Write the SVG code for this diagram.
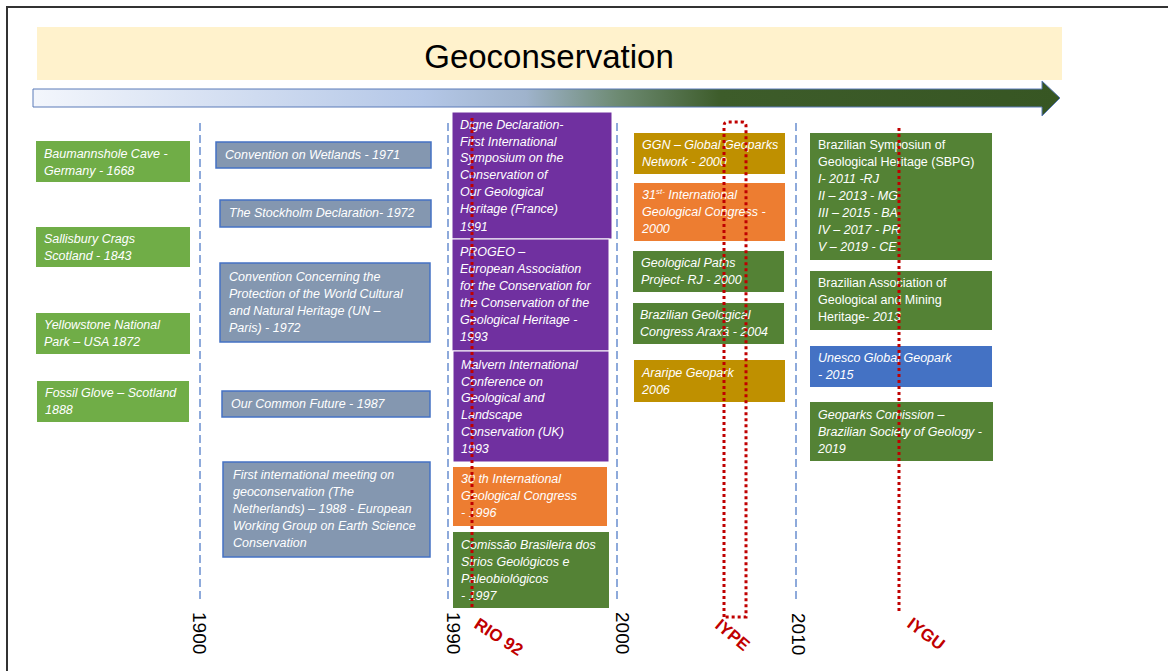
<svg xmlns="http://www.w3.org/2000/svg" width="1168" height="671" viewBox="0 0 1168 671">
<defs>
<linearGradient id="arrowGrad" x1="33" y1="0" x2="1060" y2="0" gradientUnits="userSpaceOnUse">
<stop offset="0" stop-color="#f3f6fc"/>
<stop offset="0.38" stop-color="#b4c7e7"/>
<stop offset="0.48" stop-color="#9fb3cc"/>
<stop offset="0.57" stop-color="#6d8a72"/>
<stop offset="0.67" stop-color="#3d5c2a"/>
<stop offset="1" stop-color="#375623"/>
</linearGradient>
<style>
.t{font-family:"Liberation Sans",Arial,sans-serif;font-size:12.5px;fill:#ffffff;font-style:italic}
.n{font-style:normal}
.g1{fill:#70ad47}
.g2{fill:#548235}
.pu{fill:#7030a0;stroke:#ffffff;stroke-width:1}
.or{fill:#ed7d31}
.go{fill:#bf9000}
.bl{fill:#4472c4}
.bg{fill:#8497b0;stroke:#4472c4;stroke-width:1.5}
.dash{stroke:#6a8fcf;stroke-width:1.5;stroke-dasharray:8 4;fill:none}
.dot{stroke:#c00000;stroke-width:3;stroke-dasharray:3 3;fill:none}
.yr{font-family:"Liberation Sans",Arial,sans-serif;font-size:19px;fill:#000}
.rl{font-family:"Liberation Sans",Arial,sans-serif;font-size:17px;font-weight:bold;fill:#c00000}
</style>
</defs>
<rect x="0" y="0" width="1168" height="671" fill="#ffffff"/>
<path d="M7,671 L7,7 L1168,7" fill="none" stroke="#333333" stroke-width="2"/>

<g id="title">
<rect x="37" y="27" width="1025" height="53" fill="#fff2cc"/>
<text x="549" y="68" text-anchor="middle" font-family="Liberation Sans, Arial, sans-serif" font-size="33" fill="#000">Geoconservation</text>
</g>
<g id="timeline-arrow">
<path d="M33,89 L1042,89 L1042,81 L1060,98 L1042,116 L1042,107 L33,107 Z" fill="url(#arrowGrad)" stroke="#5a7ab8" stroke-width="1"/>
</g>

<g id="connectors">
<line class="dash" x1="200" y1="123" x2="200" y2="602"/>
<line class="dash" x1="448" y1="123" x2="448" y2="602"/>
<line class="dash" x1="617" y1="123" x2="617" y2="602"/>
<line class="dash" x1="796" y1="123" x2="796" y2="603"/>
</g>

<g id="n-baumannshole"><rect class="g1" x="36" y="141" width="154" height="41"/>
<text class="t" x="44" y="158">Baumannshole Cave -</text><text class="t" x="44" y="175">Germany  - 1668</text></g>
<g id="n-sallisbury"><rect class="g1" x="36" y="227" width="154" height="40"/>
<text class="t" x="44" y="243">Sallisbury Crags</text><text class="t" x="44" y="260">Scotland - 1843</text></g>
<g id="n-yellowstone"><rect class="g1" x="36" y="313" width="154" height="41"/>
<text class="t" x="44" y="329">Yellowstone National</text><text class="t" x="44" y="346">Park – USA 1872</text></g>
<g id="n-fossil"><rect class="g1" x="37" y="381" width="152" height="41"/>
<text class="t" x="45" y="397">Fossil Glove – Scotland</text><text class="t" x="45" y="414">1888</text></g>

<g id="n-wetlands"><rect class="bg" x="216" y="142" width="215" height="26"/>
<text class="t" x="225" y="159">Convention on Wetlands - 1971</text></g>
<g id="n-stockholm"><rect class="bg" x="220" y="200" width="211" height="27"/>
<text class="t" x="229" y="217">The Stockholm Declaration- 1972</text></g>
<g id="n-convention"><rect class="bg" x="220" y="263" width="210" height="79"/>
<text class="t" x="229" y="281"> Convention Concerning the</text><text class="t" x="229" y="298">Protection of the World Cultural</text><text class="t" x="229" y="315">and Natural Heritage (UN –</text><text class="t" x="229" y="332">Paris) - 1972</text></g>
<g id="n-common"><rect class="bg" x="222" y="391" width="208" height="26"/>
<text class="t" x="231" y="408">Our Common Future - 1987</text></g>
<g id="n-firstmeeting"><rect class="bg" x="223" y="462" width="207" height="95"/>
<text class="t" x="233" y="479">First international meeting on</text><text class="t" x="233" y="496">geoconservation (The</text><text class="t" x="233" y="513">Netherlands) – 1988  - European</text><text class="t" x="233" y="530">Working Group on Earth Science</text><text class="t" x="233" y="547">Conservation</text></g>

<g id="n-digne"><rect class="pu" x="452" y="112" width="160" height="127"/>
<text class="t" x="460" y="129">Digne Declaration-</text><text class="t" x="460" y="146">First International</text><text class="t" x="460" y="162">Symposium on the</text><text class="t" x="460" y="179">Conservation of</text><text class="t" x="460" y="196">Our Geological</text><text class="t" x="460" y="213">Heritage (France)</text><text class="t" x="460" y="231"> 1991</text></g>
<g id="n-progeo"><rect class="pu" x="452" y="239" width="157" height="112"/>
<text class="t" x="460" y="256">PROGEO –</text><text class="t" x="460" y="273">European Association</text><text class="t" x="460" y="290">for the Conservation for</text><text class="t" x="460" y="307">the Conservation of the</text><text class="t" x="460" y="324">Geological Heritage -</text><text class="t" x="460" y="341">1993</text></g>
<g id="n-malvern"><rect class="pu" x="453" y="351" width="156" height="111"/>
<text class="t" x="461" y="369">Malvern International</text><text class="t" x="461" y="386">Conference on</text><text class="t" x="461" y="402">Geological and</text><text class="t" x="461" y="419">Landscape</text><text class="t" x="461" y="436">Conservation (UK)</text><text class="t" x="461" y="453"> 1993</text></g>
<g id="n-30th"><rect class="or" x="453" y="467" width="154" height="59"/>
<text class="t" x="461" y="483">30 th International</text><text class="t" x="461" y="500">Geological Congress</text><text class="t" x="461" y="517"> - 1996</text></g>
<g id="n-comissao"><rect class="g2" x="453" y="532" width="156" height="76"/>
<text class="t" x="461" y="549">Comissão Brasileira dos</text><text class="t" x="461" y="566">Sírios Geológicos e</text><text class="t" x="461" y="583">Paleobiológicos</text><text class="t" x="461" y="600"> - 1997</text></g>

<g id="n-ggn"><rect class="go" x="634" y="133" width="151" height="41"/>
<text class="t" x="642" y="149">GGN – Global Geoparks</text><text class="t" x="642" y="166">Network - 2000</text></g>
<g id="n-31st"><rect class="or" x="634" y="183" width="151" height="58"/>
<text class="t" x="642" y="199">31<tspan font-size="8" dy="-5">st-</tspan><tspan dy="5">  International</tspan></text><text class="t" x="642" y="216">Geological Congress -</text><text class="t" x="642" y="233">2000</text></g>
<g id="n-paths"><rect class="g2" x="633" y="251" width="151" height="41"/>
<text class="t" x="641" y="267">Geological Paths</text><text class="t" x="641" y="284">Project-  RJ - 2000</text></g>
<g id="n-araxa"><rect class="g2" x="633" y="303" width="151" height="41"/>
<text class="t" x="640" y="319">Brazilian Geological</text><text class="t" x="640" y="336">Congress Araxá - 2004</text></g>
<g id="n-araripe"><rect class="go" x="634" y="360" width="151" height="42"/>
<text class="t" x="642" y="377">Araripe Geopark</text><text class="t" x="642" y="394">2006</text></g>

<g id="n-sbpg"><rect class="g2" x="810" y="133" width="182" height="127"/>
<text class="t n" x="818" y="149"> Brazilian Symposiun of</text><text class="t n" x="818" y="166">Geological Heritage  (SBPG)</text><text class="t" x="818" y="183">I- 2011 -RJ</text><text class="t" x="818" y="200">II – 2013 - MG</text><text class="t" x="818" y="217">III – 2015 - BA</text><text class="t" x="818" y="234">IV – 2017 - PR</text><text class="t" x="818" y="251">V – 2019 - CE</text></g>
<g id="n-association"><rect class="g2" x="810" y="271" width="182" height="59"/>
<text class="t n" x="818" y="287">Brazilian Association of</text><text class="t n" x="818" y="304">Geological and Mining</text><text class="t n" x="818" y="321"> Heritage- <tspan font-style="italic">2013</tspan></text></g>
<g id="n-unesco"><rect class="bl" x="810" y="346" width="182" height="41"/>
<text class="t" x="818" y="362">Unesco Global Geopark</text><text class="t" x="818" y="379"> - 2015</text></g>
<g id="n-comission"><rect class="g2" x="810" y="402" width="183" height="59"/>
<text class="t" x="818" y="419"> Geoparks Comission –</text><text class="t" x="818" y="436">Brazilian Society of Geology -</text><text class="t" x="818" y="453">2019</text></g>

<g id="markers">
<line class="dot" x1="472" y1="118" x2="472" y2="608"/>
<path class="dot" d="M724,617 L724,126 Q724,122 728,122 L742,122 Q746,122 746,126 L746,617 Z"/>
<line class="dot" x1="899" y1="128" x2="899" y2="613"/>
</g>

<g id="year-labels">
<text class="yr" transform="translate(193,612) rotate(90)">1900</text>
<text class="yr" transform="translate(447,612) rotate(90)">1990</text>
<text class="yr" transform="translate(616,612) rotate(90)">2000</text>
<text class="yr" transform="translate(792,613) rotate(90)">2010</text>
<text class="rl" transform="translate(473,627) rotate(33)">RIO 92</text>
<text class="rl" transform="translate(714,627) rotate(40)">IYPE</text>
<text class="rl" transform="translate(906,626) rotate(37)">IYGU</text>
</g>
</svg>
